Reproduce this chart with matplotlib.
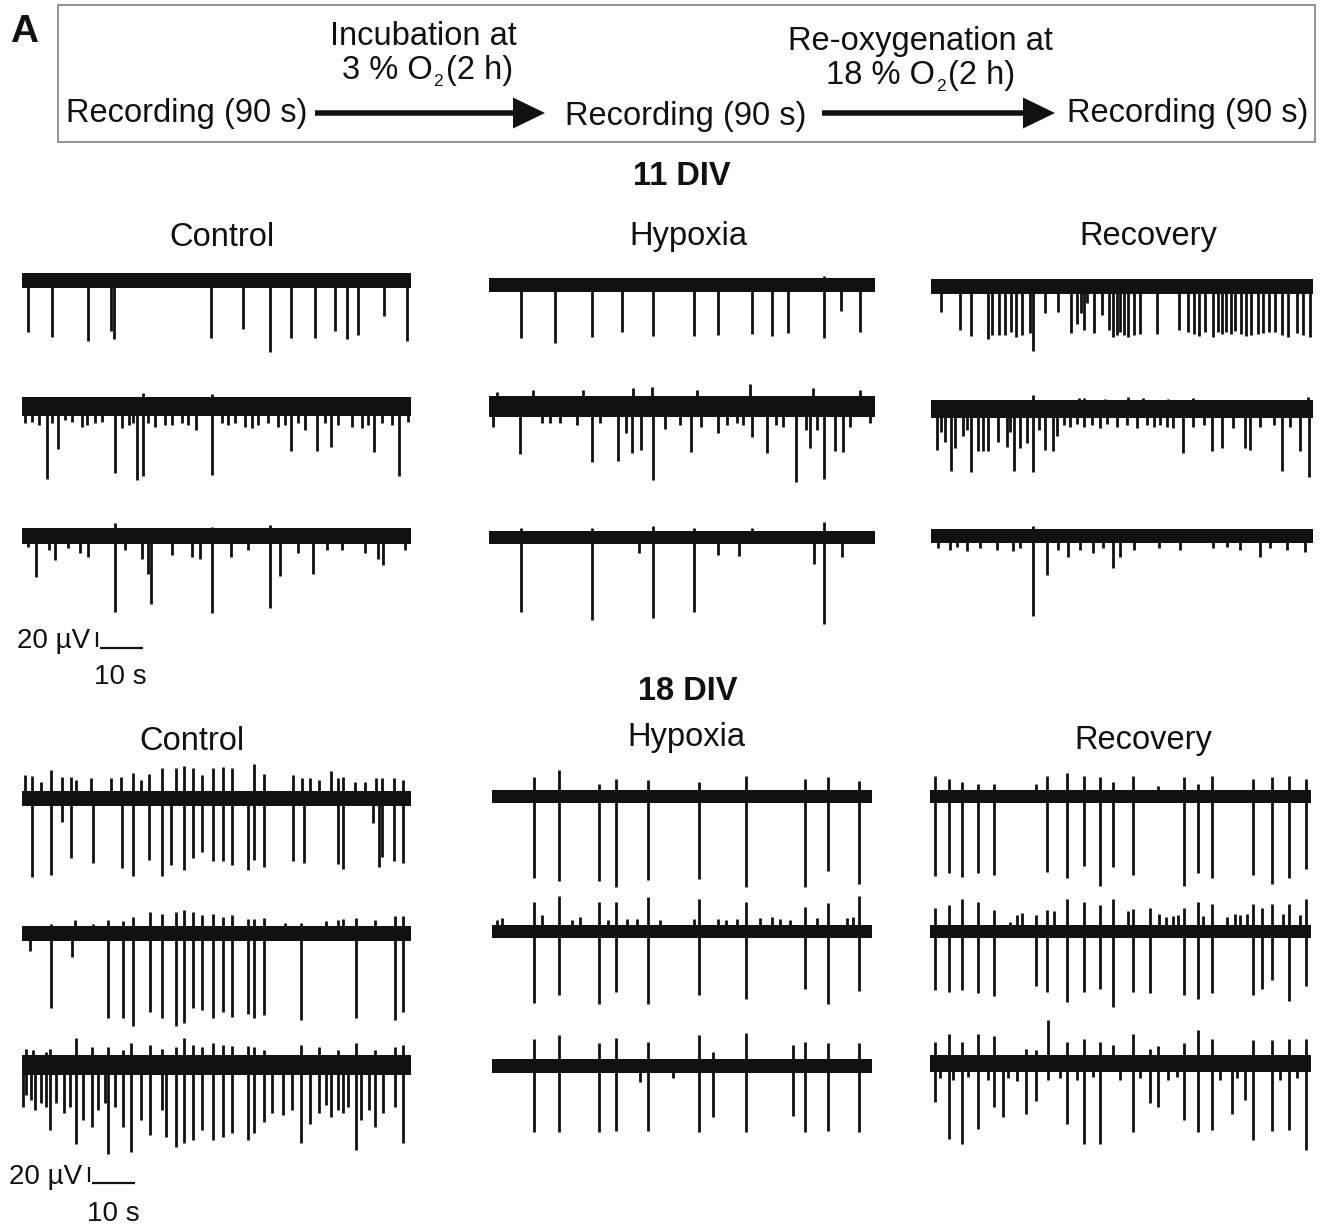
import matplotlib
matplotlib.use("Agg")
import matplotlib.pyplot as plt
from matplotlib.patches import Rectangle
import numpy as np

plt.rcParams['font.family'] = ['Liberation Sans', 'DejaVu Sans']

# ---------------- data (times in s, amplitudes in µV) ----------------
DURATION = 90.0
SCALE_T = 10     # s
SCALE_UV = 20    # µV

conditions = ["Control", "Hypoxia", "Recovery"]
ages = ["11 DIV", "18 DIV"]

# 11 DIV - Control
a1_t_dn = [1.5, 6.9, 15.3, 20.6, 21.4, 43.8, 51.1, 57.5, 62.2, 67.8, 72.4, 75.3, 77.7, 83.8, 89.0]
a1_dn = [69, 75, 80, 67, 78, 76, 64, 95, 76, 76, 67, 78, 72, 47, 80]
a1_t_up = [43.8, 57.5, 84.5]
a1_up = [10, 8, 8]

a2_t_dn = [0.8, 2.3, 3.9, 5.8, 6.9, 8.3, 10.0, 11.6, 13.9, 15.0, 16.9, 18.5, 21.6, 23.1, 24.7,
           25.8, 26.7, 28.0, 29.3, 30.8, 33.1, 34.7, 37.0, 38.5, 40.4, 43.9, 46.2, 47.8, 49.3, 51.6,
           53.2, 54.7, 57.0, 59.3, 60.9, 62.3, 63.9, 65.5, 68.2, 70.1, 71.6, 73.2, 76.3, 78.6, 80.1,
           81.4, 83.2, 85.5, 87.2, 89.4]
a2_dn = [22, 20, 24, 96, 22, 56, 18, 20, 27, 24, 22, 20, 88, 29, 24,
         22, 98, 93, 22, 27, 24, 24, 22, 24, 31, 91, 22, 24, 22, 27,
         29, 24, 22, 27, 24, 59, 22, 31, 59, 22, 54, 24, 27, 29, 24,
         61, 22, 24, 93, 20]
a2_t_up = [4.0, 12.0, 28.1, 33.0, 43.9, 50.0, 57.0, 66.0, 75.0, 84.0, 89.0]
a2_up = [13, 12, 18, 12, 17, 13, 12, 13, 12, 13, 13]

a3_t_dn = [1.5, 3.2, 6.2, 7.7, 10.8, 13.5, 15.4, 21.6, 23.9, 27.7, 29.1, 29.8, 34.7, 39.3,
           41.2, 43.9, 48.5, 52.4, 57.5, 59.7, 63.9, 67.4, 70.5, 74.0, 79.4, 82.4, 83.6, 88.6]
a3_dn = [14, 54, 19, 32, 16, 23, 28, 101, 19, 30, 50, 90, 25, 28,
         30, 102, 28, 19, 96, 53, 23, 50, 19, 19, 23, 30, 39, 19]
a3_t_up = [21.6, 43.9, 57.5]
a3_up = [17, 12, 15]

# 11 DIV - Hypoxia
b1_t_dn = [7.3, 15.3, 24.0, 30.9, 38.1, 47.7, 53.4, 61.2, 66.0, 69.8, 78.1, 82.0, 86.5]
b1_dn = [70, 77, 69, 63, 68, 68, 67, 65, 68, 64, 71, 34, 62]
b1_t_up = [7.3, 24.0, 38.1, 78.1]
b1_up = [10, 9, 9, 12]

b2_t_dn = [0.9, 7.2, 12.2, 14.2, 16.5, 20.4, 24.0, 25.8, 30.1, 32.0, 33.2, 35.5, 38.1, 41.0,
           44.5, 47.0, 49.5, 53.4, 55.4, 57.7, 59.3, 61.2, 64.7, 67.0, 68.6, 71.5, 74.0, 74.8,
           76.4, 78.1, 80.6, 82.6, 84.1, 88.8]
b2_dn = [28, 64, 23, 23, 23, 25, 74, 23, 73, 36, 62, 58, 99, 30,
         25, 61, 28, 36, 25, 23, 25, 41, 62, 25, 28, 101, 32, 56,
         32, 97, 60, 61, 28, 23]
b2_t_up = [1.7, 10.3, 21.9, 33.6, 37.9, 48.4, 60.8, 75.6, 86.5]
b2_up = [19, 21, 21, 24, 25, 21, 29, 24, 21]

b3_t_dn = [7.3, 24.0, 35.0, 38.1, 47.8, 53.4, 58.3, 75.8, 78.1, 82.4]
b3_dn = [99, 110, 21, 108, 99, 24, 25, 35, 115, 26]
b3_t_up = [7.3, 24.0, 38.1, 47.8, 61.2, 78.1]
b3_up = [13, 13, 15, 13, 12, 21]

# 11 DIV - Recovery
c1_t_dn = [2.4, 6.9, 9.4, 13.4, 14.4, 16.1, 17.5, 18.9, 20.0, 21.4, 23.4, 24.0, 26.9, 29.9,
           33.0, 34.4, 35.3, 36.0, 36.8, 38.5, 40.3, 42.1, 43.0, 43.8, 44.6, 45.6, 46.6, 47.8,
           49.3, 53.3, 58.4, 60.7, 62.1, 63.3, 64.7, 66.5, 67.6, 68.6, 69.6, 70.7, 71.7, 73.1,
           74.3, 75.4, 77.0, 78.4, 79.6, 81.1, 82.7, 84.1, 86.3, 87.7, 89.4]
c1_dn = [34, 59, 67, 70, 65, 65, 65, 61, 68, 65, 62, 86, 36, 34,
         62, 50, 36, 59, 23, 63, 39, 59, 68, 65, 61, 65, 68, 65,
         64, 64, 58, 61, 64, 67, 61, 68, 61, 64, 61, 64, 60, 64,
         67, 65, 64, 63, 61, 61, 65, 68, 62, 65, 68]
c1_t_up = [13.4, 24.0, 62.0]
c1_up = [9, 8, 8]

c2_t_dn = [1.4, 2.5, 3.4, 4.9, 5.7, 7.7, 8.5, 9.4, 11.2, 12.4, 13.6, 15.9, 17.9, 18.8, 19.6,
           21.1, 22.6, 24.0, 25.5, 26.9, 28.9, 29.7, 31.3, 32.8, 34.4, 36.0, 37.9, 39.9, 41.5,
           43.8, 46.2, 48.5, 50.9, 52.5, 54.0, 55.6, 57.2, 59.5, 61.9, 64.3, 66.2, 68.6, 71.3,
           74.1, 75.3, 77.6, 80.8, 82.7, 84.7, 87.0, 89.2]
c2_dn = [54, 30, 43, 82, 52, 36, 28, 84, 56, 56, 56, 43, 50, 30, 82,
         52, 45, 84, 28, 54, 56, 36, 21, 23, 19, 23, 21, 25, 19,
         23, 21, 25, 21, 23, 21, 23, 25, 58, 23, 21, 55, 52, 25,
         52, 54, 23, 21, 82, 23, 56, 90]
c2_t_up = [24.2, 35.0, 36.0, 41.0, 46.6, 50.0, 56.0, 61.9, 89.0]
c2_up = [19, 15, 15, 14, 17, 15, 14, 15, 17]

c3_t_dn = [1.8, 4.6, 6.1, 8.5, 11.6, 15.6, 19.5, 21.1, 24.2, 27.3, 30.1, 32.4, 35.2, 38.3,
           40.7, 43.0, 44.6, 47.8, 53.7, 58.8, 66.6, 69.8, 72.9, 77.6, 80.0, 83.9, 88.2]
c3_dn = [16, 18, 14, 20, 16, 18, 20, 16, 107, 52, 19, 28, 18, 23,
         16, 43, 28, 18, 16, 18, 16, 14, 18, 28, 16, 18, 21]
c3_t_up = [24.2]
c3_up = [13]

# 18 DIV - Control
d1_t_dn = [2.2, 6.6, 9.3, 11.4, 16.4, 23.2, 25.7, 29.4, 32.5, 34.4, 37.5, 39.6, 41.7, 44.2,
           46.4, 48.6, 52.2, 53.7, 56.0, 62.7, 65.3, 73.0, 74.3, 81.3, 82.6, 83.2, 86.1, 88.2]
d1_dn = [105, 102, 31, 79, 86, 93, 104, 82, 104, 89, 95, 80, 72, 84,
         83, 89, 95, 82, 92, 84, 86, 87, 94, 33, 91, 78, 83, 86]
d1_t_up = [0.6, 2.2, 4.5, 6.6, 9.3, 11.4, 12.6, 16.0, 20.7, 23.0, 25.7, 27.6, 29.4, 32.5,
           35.6, 37.5, 39.6, 41.7, 44.2, 46.4, 48.6, 53.7, 56.0, 62.7, 64.7, 66.6, 68.7, 71.6,
           73.0, 74.3, 77.0, 79.3, 82.0, 83.2, 86.1, 88.2]
d1_up = [31, 30, 22, 38, 29, 29, 24, 27, 27, 29, 34, 25, 33, 40,
         41, 43, 41, 31, 41, 42, 41, 46, 33, 31, 27, 27, 24, 36,
         27, 29, 22, 22, 27, 27, 27, 25]

d2_t_dn = [1.8, 6.6, 11.6, 19.8, 23.4, 25.7, 29.6, 32.5, 35.6, 37.5, 39.6, 41.7, 44.2, 46.4,
           48.6, 52.2, 53.7, 56.0, 64.5, 77.2, 86.3, 88.2]
d2_dn = [24, 99, 31, 113, 113, 123, 105, 113, 123, 119, 100, 102, 113, 105,
         111, 107, 113, 109, 115, 113, 115, 105]
d2_t_up = [1.8, 6.6, 12.2, 16.4, 19.8, 23.4, 25.7, 29.6, 32.5, 35.6, 37.5, 39.6, 41.7, 44.2,
           46.4, 48.6, 52.2, 53.7, 56.0, 60.8, 64.5, 70.4, 73.0, 74.3, 77.2, 81.6, 86.3, 88.2]
d2_up = [9, 13, 18, 12, 18, 16, 22, 29, 26, 29, 31, 28, 24, 26,
         22, 24, 19, 19, 20, 14, 14, 16, 18, 19, 20, 18, 23, 23]

d3_t_dn = [0.2, 1.0, 2.0, 3.1, 4.3, 5.6, 6.4, 7.9, 9.7, 11.0, 12.6, 14.1, 16.2, 17.6, 19.1,
           19.8, 21.5, 23.4, 25.3, 27.5, 29.6, 32.3, 33.4, 35.6, 37.5, 39.6, 41.7, 44.2, 46.4,
           48.6, 52.2, 53.7, 56.0, 57.9, 60.4, 62.5, 64.5, 66.6, 68.7, 70.4, 71.6, 73.0, 74.3,
           75.5, 77.2, 78.5, 80.2, 81.6, 83.6, 86.3, 88.2]
d3_dn = [56, 40, 47, 60, 51, 56, 87, 51, 64, 56, 105, 73, 82, 60, 51,
         119, 56, 82, 116, 73, 93, 60, 96, 109, 104, 100, 87, 100, 96,
         91, 100, 91, 76, 64, 67, 60, 104, 78, 64, 53, 69, 60, 64,
         56, 113, 73, 60, 82, 64, 56, 104]
d3_t_up = [1.0, 2.5, 5.6, 6.4, 12.6, 16.2, 19.8, 23.4, 25.3, 29.6, 32.3, 35.6, 37.5, 39.6,
           41.7, 44.2, 46.4, 48.6, 52.2, 53.7, 56.0, 64.5, 68.7, 73.0, 77.2, 81.6, 86.3, 88.2]
d3_up = [22, 20, 18, 22, 36, 24, 24, 20, 29, 27, 22, 24, 36, 27,
         24, 29, 27, 25, 25, 24, 20, 27, 24, 20, 29, 20, 24, 27]

# 18 DIV - Hypoxia
e1_t_dn = [10.1, 16.0, 25.5, 29.4, 36.9, 49.1, 60.2, 74.3, 79.7, 87.1]
e1_dn = [108, 112, 113, 120, 111, 110, 120, 120, 99, 116]
e1_t_up = [10.1, 16.0, 25.5, 29.4, 36.9, 49.1, 60.2, 74.3, 79.7, 87.1]
e1_up = [26, 36, 17, 23, 22, 19, 27, 24, 26, 21]

e2_t_dn = [10.1, 16.0, 25.5, 29.4, 36.9, 49.1, 60.2, 74.3, 79.7, 87.1]
e2_dn = [95, 84, 97, 81, 96, 84, 90, 77, 96, 79]
e2_t_up = [1.2, 2.4, 10.1, 11.8, 16.0, 18.9, 20.9, 25.5, 27.6, 29.4, 32.0, 34.3, 36.9, 39.9,
           47.8, 49.1, 53.7, 55.6, 58.0, 60.2, 63.5, 66.3, 68.3, 70.6, 74.3, 77.0, 79.7, 84.1,
           85.6, 87.1]
e2_up = [16, 18, 39, 22, 47, 16, 20, 40, 16, 39, 17, 17, 46, 16,
         17, 44, 17, 16, 17, 39, 18, 20, 17, 16, 33, 18, 38, 18,
         20, 47]

e3_t_dn = [10.1, 16.0, 25.5, 29.4, 35.1, 36.9, 43.0, 49.1, 52.3, 60.2, 71.4, 74.3, 79.7, 87.1]
e3_dn = [88, 88, 88, 86, 21, 86, 16, 88, 68, 88, 66, 88, 86, 88]
e3_t_up = [10.1, 16.0, 25.5, 29.4, 36.9, 49.1, 52.3, 60.2, 71.4, 74.3, 79.7, 87.1]
e3_up = [36, 41, 31, 38, 32, 41, 19, 44, 28, 32, 31, 31]

# 18 DIV - Recovery
f1_t_dn = [1.2, 4.5, 7.6, 11.4, 15.1, 27.7, 32.5, 36.4, 40.3, 43.3, 48.1, 60.1, 63.3, 66.7,
           76.4, 80.8, 84.9, 88.9]
f1_dn = [106, 102, 107, 102, 104, 101, 109, 93, 119, 94, 104, 119, 102, 109,
         104, 117, 109, 97]
f1_t_up = [1.2, 4.5, 7.6, 11.4, 15.1, 25.1, 27.7, 32.5, 36.4, 40.3, 43.3, 48.1, 54.0, 60.1,
           63.3, 66.7, 76.4, 80.8, 84.9, 88.9]
f1_up = [27, 24, 20, 17, 17, 17, 27, 32, 27, 26, 20, 27, 14, 26,
         17, 27, 23, 26, 27, 24]

f2_t_dn = [1.2, 4.5, 7.6, 11.4, 15.1, 25.1, 27.7, 32.5, 36.4, 40.3, 43.3, 48.1, 52.0, 60.1,
           63.3, 66.7, 76.4, 78.6, 80.8, 84.9, 88.9]
f2_dn = [78, 80, 78, 82, 86, 73, 81, 94, 80, 77, 101, 80, 82, 84,
         90, 82, 84, 77, 64, 92, 72]
f2_t_up = [1.2, 4.5, 7.6, 11.4, 15.1, 18.9, 20.5, 21.7, 25.1, 27.7, 29.2, 32.5, 36.4, 40.3,
           43.3, 46.9, 48.1, 52.0, 54.2, 55.9, 57.5, 58.7, 60.1, 63.3, 64.6, 66.7, 70.1, 72.1,
           73.3, 74.9, 76.4, 78.6, 80.8, 83.5, 84.9, 87.5, 88.9]
f2_up = [31, 36, 43, 40, 29, 13, 22, 25, 22, 29, 27, 43, 40, 36,
         43, 27, 30, 31, 24, 20, 21, 22, 32, 40, 21, 37, 20, 24,
         22, 24, 37, 31, 37, 24, 37, 22, 43]

f3_t_dn = [1.2, 2.4, 4.5, 5.5, 7.6, 9.1, 11.4, 13.8, 15.1, 17.2, 18.5, 20.5, 22.7, 25.1,
           28.0, 30.7, 32.3, 34.7, 36.4, 38.6, 40.3, 44.9, 48.1, 49.6, 52.0, 54.0, 56.3, 58.3,
           60.1, 63.3, 66.7, 68.6, 71.3, 72.5, 74.5, 76.4, 80.8, 82.7, 84.9, 86.7, 88.9]
f3_dn = [51, 20, 101, 22, 107, 18, 87, 22, 58, 71, 20, 24, 68, 50,
         22, 20, 81, 22, 108, 18, 107, 22, 92, 20, 53, 58, 22, 18,
         76, 92, 89, 22, 67, 20, 49, 102, 90, 22, 89, 20, 116]
f3_t_up = [1.2, 4.5, 7.6, 11.4, 15.1, 22.7, 25.1, 28.0, 32.3, 36.4, 40.3, 43.3, 48.1, 52.0,
           54.0, 60.1, 63.3, 66.7, 76.4, 80.8, 84.9, 88.9]
f3_up = [29, 39, 28, 39, 36, 19, 18, 58, 28, 33, 28, 24, 39, 19,
         23, 27, 44, 33, 31, 31, 32, 33]

# baseline noise half-width per trace (µV)
noise_11 = {"Control": [10, 13, 11], "Hypoxia": [9, 14, 9], "Recovery": [10, 12, 9]}
noise_18 = {"Control": [10, 10, 13], "Hypoxia": [9, 9, 9], "Recovery": [9, 9, 11]}

traces_11 = {
    "Control": [(a1_t_dn, a1_dn, a1_t_up, a1_up), (a2_t_dn, a2_dn, a2_t_up, a2_up), (a3_t_dn, a3_dn, a3_t_up, a3_up)],
    "Hypoxia": [(b1_t_dn, b1_dn, b1_t_up, b1_up), (b2_t_dn, b2_dn, b2_t_up, b2_up), (b3_t_dn, b3_dn, b3_t_up, b3_up)],
    "Recovery": [(c1_t_dn, c1_dn, c1_t_up, c1_up), (c2_t_dn, c2_dn, c2_t_up, c2_up), (c3_t_dn, c3_dn, c3_t_up, c3_up)],
}
traces_18 = {
    "Control": [(d1_t_dn, d1_dn, d1_t_up, d1_up), (d2_t_dn, d2_dn, d2_t_up, d2_up), (d3_t_dn, d3_dn, d3_t_up, d3_up)],
    "Hypoxia": [(e1_t_dn, e1_dn, e1_t_up, e1_up), (e2_t_dn, e2_dn, e2_t_up, e2_up), (e3_t_dn, e3_dn, e3_t_up, e3_up)],
    "Recovery": [(f1_t_dn, f1_dn, f1_t_up, f1_up), (f2_t_dn, f2_dn, f2_t_up, f2_up), (f3_t_dn, f3_dn, f3_t_up, f3_up)],
}

# ---------------- layout (pixels) ----------------
W, H = 1322, 1225
PX_PER_UV = 0.75
HALF = 170  # half height of each trace axes in px
INK = "#111111"
LW = 2.0
FS = 23.5

layout_11 = {  # x_left, x_right, [centre y of each trace]
    "Control": (21.7, 411.0, [280.7, 406.7, 536.0]),
    "Hypoxia": (489.3, 875.0, [285.0, 406.0, 537.3]),
    "Recovery": (930.7, 1312.7, [286.0, 409.3, 536.0]),
}
layout_18 = {
    "Control": (22.0, 411.0, [798.3, 933.3, 1065.0]),
    "Hypoxia": (491.7, 871.7, [796.7, 931.7, 1066.0]),
    "Recovery": (930.0, 1310.7, [796.7, 931.7, 1063.3]),
}

fig = plt.figure(figsize=(W / 100, H / 100), dpi=100)
fig.patch.set_facecolor("white")

ov = fig.add_axes([0, 0, 1, 1])
ov.set_xlim(0, W)
ov.set_ylim(H, 0)
ov.axis("off")


def draw_trace(xl, xr, yc, t_dn, dn, t_up, up, noise):
    ax = fig.add_axes([xl / W, 1 - (yc + HALF) / H, (xr - xl) / W, 2 * HALF / H])
    ax.set_xlim(0, DURATION)
    lim = HALF / PX_PER_UV
    ax.set_ylim(-lim, lim)
    ax.axis("off")
    ax.fill_between([0, DURATION], -noise, noise, color=INK, lw=0)
    ax.vlines(t_dn, 0, -np.asarray(dn, dtype=float), color=INK, lw=LW)
    if len(t_up):
        ax.vlines(t_up, 0, np.asarray(up, dtype=float), color=INK, lw=LW)
    return ax


axes_store = {}
for age, traces, lay, noise in [("11", traces_11, layout_11, noise_11),
                                 ("18", traces_18, layout_18, noise_18)]:
    for cond in conditions:
        xl, xr, ycs = lay[cond]
        for i, (tr, yc) in enumerate(zip(traces[cond], ycs)):
            axes_store[(age, cond, i)] = draw_trace(xl, xr, yc, *tr, noise[cond][i])


def scale_bar(ax, t0, y0):
    ax.plot([t0, t0], [y0 + 1.5, y0 + 1.5 + SCALE_UV], color=INK, lw=1.6, solid_capstyle="butt")
    ax.plot([t0 + 0.6, t0 + 0.6 + SCALE_T], [y0, y0], color=INK, lw=1.6, solid_capstyle="butt")


scale_bar(axes_store[("11", "Control", 2)], 17.4, -149.3)
scale_bar(axes_store[("18", "Control", 2)], 15.5, -157.0)

# ---------------- header box ----------------
ov.add_patch(Rectangle((58, 5), 1257, 137, fill=False, ec="#8a8a8a", lw=1.3))
ov.text(24, 32, "A", fontsize=28, fontweight="bold", ha="center", va="center", color=INK)
ov.text(66, 122, "Recording (90 s)", fontsize=FS, ha="left", va="baseline", color=INK)
ov.text(565, 125, "Recording (90 s)", fontsize=FS, ha="left", va="baseline", color=INK)
ov.text(1067, 122, "Recording (90 s)", fontsize=FS, ha="left", va="baseline", color=INK)
ov.text(423, 45, "Incubation at", fontsize=FS, ha="center", va="baseline", color=INK)
ov.text(920, 50, "Re-oxygenation at", fontsize=FS, ha="center", va="baseline", color=INK)

renderer = fig.canvas.get_renderer()


def sub_text(x_left, y_base, pre, sub, post):
    t1 = ov.text(x_left, y_base, pre, fontsize=FS, ha="left", va="baseline", color=INK)
    w1 = t1.get_window_extent(renderer).width
    t2 = ov.text(x_left + w1 + 1, y_base + 7, sub, fontsize=12.5, ha="left", va="baseline", color=INK)
    w2 = t2.get_window_extent(renderer).width
    ov.text(x_left + w1 + w2 + 4, y_base, post, fontsize=FS, ha="left", va="baseline", color=INK)


sub_text(342, 79, "3 % O", "2", "(2 h)")
sub_text(826, 84, "18 % O", "2", "(2 h)")

ov.arrow(315, 113, 230, 0, width=5.5, head_width=31, head_length=32,
         length_includes_head=True, color=INK, lw=0)
ov.arrow(822, 113, 233, 0, width=5.5, head_width=31, head_length=32,
         length_includes_head=True, color=INK, lw=0)

# ---------------- titles ----------------
ov.text(682, 185, ages[0], fontsize=FS, fontweight="bold", ha="center", va="baseline", color=INK)
ov.text(688, 700, ages[1], fontsize=FS, fontweight="bold", ha="center", va="baseline", color=INK)
for cond, x, y in zip(conditions, [222, 688, 1148], [246, 245, 245]):
    ov.text(x, y, cond, fontsize=FS, ha="center", va="baseline", color=INK)
for cond, x, y in zip(conditions, [192, 686, 1143], [750, 746, 749]):
    ov.text(x, y, cond, fontsize=FS, ha="center", va="baseline", color=INK)

# scale bar labels
ov.text(90, 648, f"{SCALE_UV} µV", fontsize=20, ha="right", va="baseline", color=INK)
ov.text(120, 684, f"{SCALE_T} s", fontsize=20, ha="center", va="baseline", color=INK)
ov.text(82, 1184, f"{SCALE_UV} µV", fontsize=20, ha="right", va="baseline", color=INK)
ov.text(113, 1221, f"{SCALE_T} s", fontsize=20, ha="center", va="baseline", color=INK)

fig.savefig("out.png", dpi=100, facecolor="white")
